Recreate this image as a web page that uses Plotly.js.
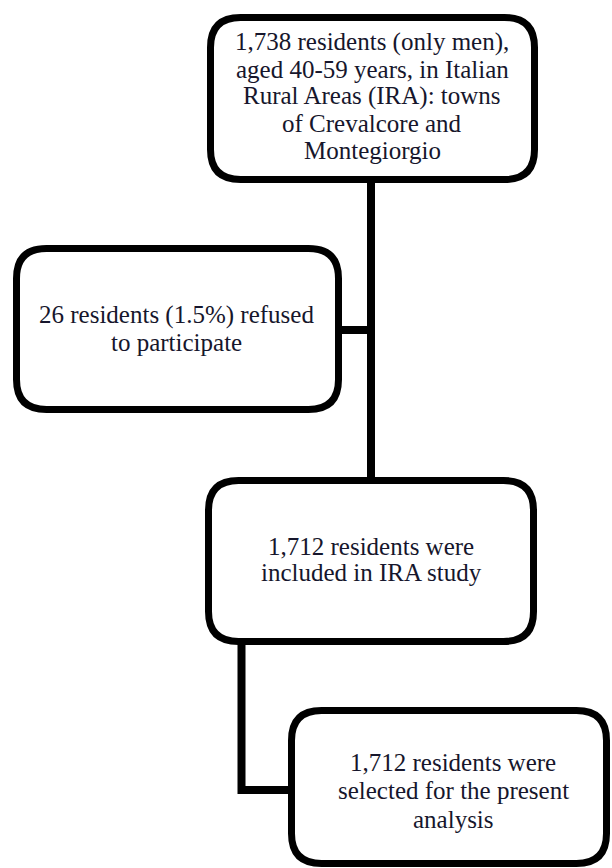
<!DOCTYPE html>
<html>
<head>
<meta charset="utf-8">
<script src="https://cdn.plot.ly/plotly-3.0.1.min.js"></script>
<style>
html,body{margin:0;padding:0;background:#fff;}
svg text.annotation-text{font-family:'Liberation Serif','Times New Roman',serif !important;}
</style>
</head>
<body>
<div id="chart"></div>
<script>
// Flowchart content
var boxNames = ["enrolled", "refused", "included", "selected"];
var enrolledLines = ["1,738 residents (only men),", "aged 40-59 years, in Italian", "Rural Areas (IRA): towns", "of Crevalcore and", "Montegiorgio"];
var refusedLines = ["26 residents (1.5%) refused", "to participate"];
var includedLines = ["1,712 residents were", "included in IRA study"];
var selectedLines = ["1,712 residents were", "selected for the present", "analysis"];
var boxLines = [enrolledLines, refusedLines, includedLines, selectedLines];

// Layout geometry (pixel coordinates on a 612x868 canvas)
var boxGeom = [
  {x0: 210.5, x1: 534.5, y0: 17.5, y1: 179.5, tx: 372, ty: 42, dy: 27.2},
  {x0: 16.5, x1: 338.5, y0: 248.5, y1: 409.5, tx: 176, ty: 315, dy: 27.5},
  {x0: 208.5, x1: 533.5, y0: 480.5, y1: 641.5, tx: 371, ty: 546, dy: 26.8},
  {x0: 291.5, x1: 606.5, y0: 710.5, y1: 863.5, tx: 453, ty: 762, dy: 28.5}
];
var connectors = [
  "M371,181 V481",
  "M338,330 H371",
  "M241.5,640 V790 H292"
];

function roundRect(g, r) {
  var x0 = g.x0, x1 = g.x1, y0 = g.y0, y1 = g.y1;
  return "M" + (x0 + r) + "," + y0 +
    " H" + (x1 - r) +
    " Q" + x1 + "," + y0 + " " + x1 + "," + (y0 + r) +
    " V" + (y1 - r) +
    " Q" + x1 + "," + y1 + " " + (x1 - r) + "," + y1 +
    " H" + (x0 + r) +
    " Q" + x0 + "," + y1 + " " + x0 + "," + (y1 - r) +
    " V" + (y0 + r) +
    " Q" + x0 + "," + y0 + " " + (x0 + r) + "," + y0 + " Z";
}

var shapes = [];
connectors.forEach(function (p) {
  shapes.push({type: "path", xref: "x", yref: "y", path: p,
    line: {color: "#000", width: 8}, layer: "above"});
});
boxGeom.forEach(function (g) {
  shapes.push({type: "path", xref: "x", yref: "y", path: roundRect(g, 30),
    fillcolor: "#ffffff", line: {color: "#000", width: 7}, layer: "above"});
});

var annotations = [];
boxLines.forEach(function (lines, i) {
  var g = boxGeom[i];
  lines.forEach(function (t, k) {
    annotations.push({x: g.tx, y: g.ty + k * g.dy, xref: "x", yref: "y", text: t, showarrow: false,
      font: {family: "serif", size: 25, color: "#16162c"}});
  });
});

var layout = {
  width: 612, height: 868,
  margin: {l: 0, r: 0, t: 0, b: 0},
  xaxis: {range: [0, 612], visible: false},
  yaxis: {range: [868, 0], visible: false},
  shapes: shapes,
  annotations: annotations
};

Plotly.newPlot("chart", [{x: [0], y: [0], mode: "markers", marker: {opacity: 0}}], layout, {staticPlot: true});
</script>
</body>
</html>
